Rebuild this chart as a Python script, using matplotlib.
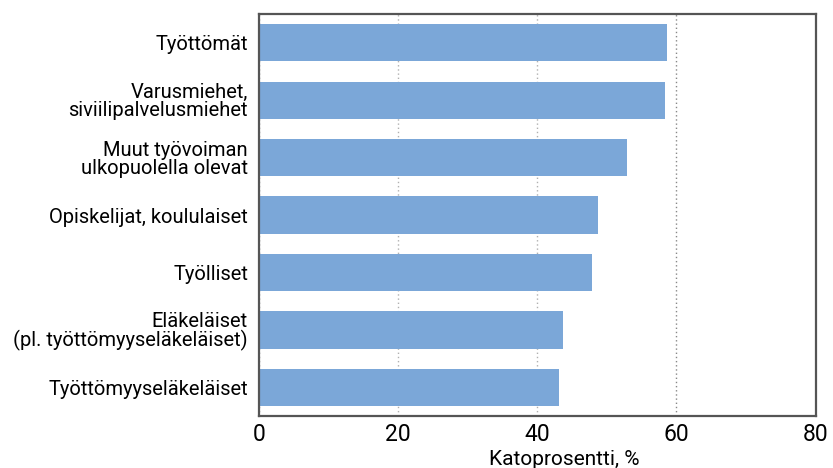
import matplotlib
matplotlib.use("Agg")
import matplotlib.pyplot as plt

# Katoprosentti pääasiallisen toiminnan mukaan
categories = ["Työttömät", "Varusmiehet,\nsiviilipalvelusmiehet", "Muut työvoiman\nulkopuolella olevat",
              "Opiskelijat, koululaiset", "Työlliset", "Eläkeläiset\n(pl. työttömyyseläkeläiset)",
              "Työttömyyseläkeläiset"]
values = [58.7, 58.4, 52.9, 48.7, 47.9, 43.7, 43.1]
xticks = [0, 20, 40, 60, 80]

plt.rcParams["font.family"] = ["Roboto", "DejaVu Sans"]

fig = plt.figure(figsize=(8.33, 4.68), dpi=100)
ax = fig.add_axes([0.311, 0.111, 0.668, 0.859])

y = list(range(len(categories)))
ax.barh(y, values, height=0.65, color="#7BA7D8", zorder=2)
ax.set_ylim(len(categories) - 0.5, -0.5)
ax.set_xlim(0, 80)
ax.set_xticks(xticks)
ax.set_yticks(y)
ax.set_yticklabels(categories, fontsize=14.5, linespacing=0.95)
ax.tick_params(axis="x", labelsize=16.5, length=0, pad=5)
ax.tick_params(axis="y", length=0, pad=8)
ax.xaxis.grid(True, ls=(0, (1, 2)), color="#888888", lw=1, zorder=1)
# 20 ja 40 kohdan viivat vaaleampia kuin 60
for t, gl in zip(xticks, ax.get_xgridlines()):
    if t in (20, 40):
        gl.set_color("#b0b0b0")
for s in ax.spines.values():
    s.set_color("#555555"); s.set_linewidth(1.6)
ax.set_xlabel("Katoprosentti, %", fontsize=15)
ax.xaxis.set_label_coords(0.549, -0.085)

fig.savefig("out.png", dpi=100)
